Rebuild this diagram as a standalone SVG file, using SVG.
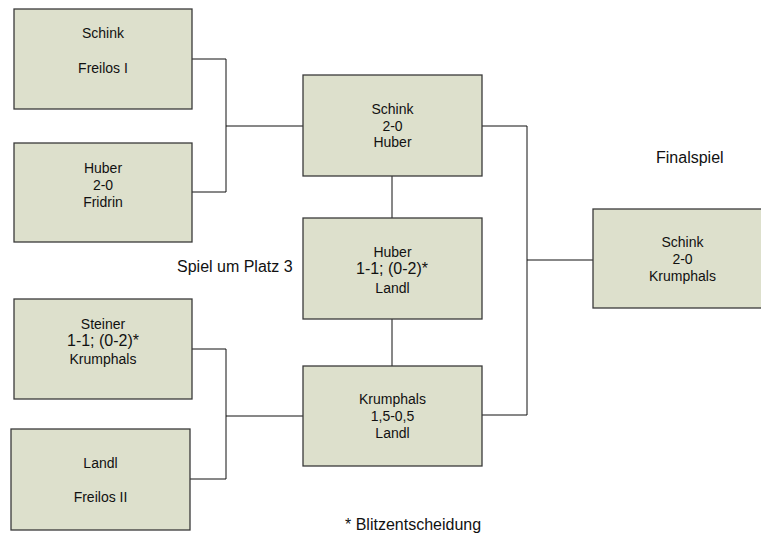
<svg xmlns="http://www.w3.org/2000/svg" width="761" height="536" viewBox="0 0 761 536">
<style>
.box{fill:#DDE0CC;stroke:#3a3a3a;stroke-width:1.3}
.t{font-family:"Liberation Sans",Arial,sans-serif;font-size:14px;fill:#111;text-anchor:middle}
.big{font-size:16px}
.lbl{font-family:"Liberation Sans",Arial,sans-serif;font-size:16px;fill:#111}
.c{fill:none;stroke:#111;stroke-width:1}
</style>
<rect width="761" height="536" fill="#fff"/>
<g id="connectors">
<polyline class="c" points="192,59 226,59 226,192 192,192"/>
<line class="c" x1="226" y1="126" x2="303" y2="126"/>
<line class="c" x1="392" y1="176" x2="392" y2="218"/>
<line class="c" x1="392" y1="319" x2="392" y2="366"/>
<polyline class="c" points="482,126 527,126 527,415 482,415"/>
<line class="c" x1="527" y1="260" x2="593" y2="260"/>
<polyline class="c" points="192,349 226,349 226,479 190,479"/>
<line class="c" x1="226" y1="416" x2="303" y2="416"/>
</g>
<g id="n1">
<rect class="box" x="14" y="9" width="178" height="100"/>
<text class="t" x="103" y="38">Schink</text>
<text class="t" x="103" y="73">Freilos I</text>
</g>
<g id="n2">
<rect class="box" x="14" y="143" width="178" height="99"/>
<text class="t" x="103" y="173">Huber</text>
<text class="t" x="103" y="190">2-0</text>
<text class="t" x="103" y="207">Fridrin</text>
</g>
<g id="n3">
<rect class="box" x="303" y="75" width="179" height="101"/>
<text class="t" x="392.5" y="114">Schink</text>
<text class="t" x="392.5" y="131">2-0</text>
<text class="t" x="392.5" y="147">Huber</text>
</g>
<g id="n4">
<rect class="box" x="303" y="218" width="179" height="101"/>
<text class="t" x="392.5" y="257">Huber</text>
<text class="t big" x="392" y="274">1-1; (0-2)*</text>
<text class="t" x="392.5" y="293">Landl</text>
</g>
<g id="n5">
<rect class="box" x="593" y="209" width="179" height="99"/>
<text class="t" x="682.5" y="247">Schink</text>
<text class="t" x="682.5" y="264">2-0</text>
<text class="t" x="682.5" y="281">Krumphals</text>
</g>
<g id="n6">
<rect class="box" x="303" y="366" width="179" height="100"/>
<text class="t" x="392.5" y="404">Krumphals</text>
<text class="t" x="392.5" y="421">1,5-0,5</text>
<text class="t" x="392.5" y="438">Landl</text>
</g>
<g id="n7">
<rect class="box" x="14" y="299" width="178" height="100"/>
<text class="t" x="103" y="329">Steiner</text>
<text class="t big" x="103" y="346">1-1; (0-2)*</text>
<text class="t" x="103" y="364">Krumphals</text>
</g>
<g id="n8">
<rect class="box" x="11" y="429" width="179" height="101"/>
<text class="t" x="100.5" y="468">Landl</text>
<text class="t" x="100.5" y="502">Freilos II</text>
</g>
<g id="labels">
<text class="lbl" x="656" y="163">Finalspiel</text>
<text class="lbl" x="177" y="271.5">Spiel um Platz 3</text>
<text class="lbl" x="345" y="530">* Blitzentscheidung</text>
</g>
</svg>
